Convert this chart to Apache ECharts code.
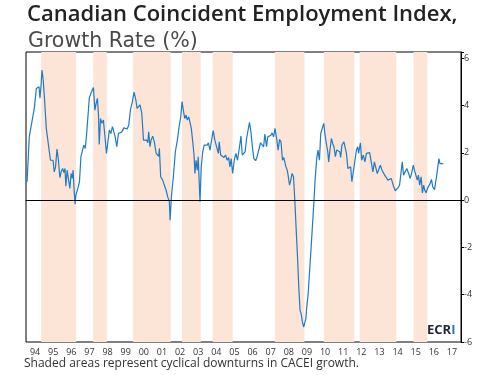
<!DOCTYPE html>
<html lang="en">

<head>
    <meta charset="UTF-8">
    <title>Canadian Coincident Employment Index</title>
    <style>
        body {
            margin: 0;
            background: #fff;
        }

        .chart {
            width: 495px;
            height: 375px;
        }
    </style>
</head>

<body>
    <div class="chart"></div>
    <script src="https://cdn.jsdelivr.net/npm/echarts@6/dist/echarts.min.js"></script>
    <script>
        // year labels on the bottom axis
        var years = ['94', '95', '96', '97', '98', '99', '00', '01', '02', '03', '04', '05',
            '06', '07', '08', '09', '10', '11', '12', '13', '14', '15', '16', '17']

        // shaded cyclical downturns (start, end) in decimal years
        var downturns = [
            [1994.84, 1996.77], [1997.71, 1998.46], [1999.91, 2001.98], [2002.61, 2003.64],
            [2004.30, 2005.40], [2007.73, 2009.36], [2010.43, 2012.12], [2012.41, 2014.43],
            [2015.38, 2016.14]
        ]

        // growth rate: time (decimal year) and value (%), row by row
        var t = [
            1994.06, 1994.18, 1994.29, 1994.36, 1994.47, 1994.57, 1994.66, 1994.72, 1994.77, 1994.83,
            1994.88, 1994.94, 1995.02, 1995.12, 1995.24, 1995.35, 1995.43, 1995.49, 1995.56, 1995.63,
            1995.71, 1995.78, 1995.87, 1995.94, 1996.02, 1996.09, 1996.15, 1996.20, 1996.27, 1996.37,
            1996.42, 1996.49, 1996.55, 1996.60, 1996.66, 1996.71, 1996.75, 1996.86, 1996.95, 1997.03,
            1997.12, 1997.19, 1997.27, 1997.34, 1997.41, 1997.49, 1997.58, 1997.65, 1997.72, 1997.80,
            1997.87, 1997.94, 1998.00, 1998.04, 1998.11, 1998.19, 1998.27, 1998.35, 1998.44, 1998.53,
            1998.60, 1998.68, 1998.77, 1998.85, 1998.92, 1999.01, 1999.10, 1999.19, 1999.29, 1999.40,
            1999.51, 1999.58, 1999.67, 1999.76, 1999.87, 1999.96, 2000.06, 2000.13, 2000.22, 2000.29,
            2000.39, 2000.48, 2000.57, 2000.66, 2000.72, 2000.77, 2000.84, 2000.90, 2000.99, 2001.08,
            2001.18, 2001.25, 2001.32, 2001.36, 2001.43, 2001.54, 2001.63, 2001.73, 2001.82, 2001.91,
            2001.95, 2002.02, 2002.13, 2002.24, 2002.35, 2002.46, 2002.54, 2002.61, 2002.68, 2002.76,
            2002.83, 2002.90, 2002.98, 2003.05, 2003.12, 2003.20, 2003.27, 2003.32, 2003.38, 2003.45,
            2003.50, 2003.60, 2003.67, 2003.75, 2003.83, 2003.93, 2004.00, 2004.06, 2004.15, 2004.24,
            2004.33, 2004.42, 2004.52, 2004.61, 2004.66, 2004.74, 2004.83, 2004.92, 2005.01, 2005.10,
            2005.18, 2005.25, 2005.32, 2005.40, 2005.49, 2005.58, 2005.67, 2005.78, 2005.86, 2005.93,
            2006.02, 2006.09, 2006.17, 2006.24, 2006.33, 2006.41, 2006.48, 2006.57, 2006.67, 2006.75,
            2006.85, 2006.94, 2007.03, 2007.11, 2007.18, 2007.27, 2007.34, 2007.44, 2007.51, 2007.58,
            2007.66, 2007.74, 2007.84, 2007.91, 2007.99, 2008.07, 2008.15, 2008.22, 2008.28, 2008.33,
            2008.41, 2008.46, 2008.54, 2008.61, 2008.68, 2008.76, 2008.83, 2008.90, 2008.98, 2009.05,
            2009.12, 2009.18, 2009.25, 2009.32, 2009.38, 2009.44, 2009.49, 2009.56, 2009.64, 2009.71,
            2009.80, 2009.88, 2009.95, 2010.04, 2010.11, 2010.19, 2010.26, 2010.33, 2010.43, 2010.50,
            2010.57, 2010.65, 2010.70, 2010.77, 2010.85, 2010.92, 2010.99, 2011.07, 2011.14, 2011.21,
            2011.31, 2011.36, 2011.43, 2011.54, 2011.58, 2011.68, 2011.76, 2011.84, 2011.91, 2011.98,
            2012.08, 2012.15, 2012.23, 2012.30, 2012.35, 2012.45, 2012.52, 2012.61, 2012.70, 2012.78,
            2012.87, 2012.96, 2013.07, 2013.14, 2013.22, 2013.29, 2013.38, 2013.47, 2013.55, 2013.64,
            2013.71, 2013.79, 2013.88, 2013.97, 2014.06, 2014.15, 2014.21, 2014.28, 2014.37, 2014.45,
            2014.54, 2014.61, 2014.69, 2014.76, 2014.83, 2014.93, 2015.01, 2015.11, 2015.20, 2015.29,
            2015.37, 2015.43, 2015.50, 2015.59, 2015.65, 2015.72, 2015.80, 2015.87, 2015.94, 2016.00,
            2016.08, 2016.15, 2016.22, 2016.30, 2016.37, 2016.44, 2016.54, 2016.63, 2016.67, 2016.75,
            2016.78, 2016.84, 2016.94, 2017.02
        ]
        var v = [
            0.78, 2.68, 2.71, 3.46, 3.95, 4.73, 4.77, 4.80, 4.31, 4.87,
            5.51, 5.16, 4.31, 3.04, 2.33, 1.69, 1.62, 1.69, 1.20, 1.41,
            2.16, 1.76, 0.95, 1.20, 1.34, 1.17, 1.34, 0.59, 1.27, 1.20,
            0.50, 1.13, 0.92, 1.27, 0.35, -0.17, 0.21, 0.50, 0.78, 1.84,
            1.84, 2.33, 2.19, 2.75, 3.46, 4.31, 4.52, 4.59, 4.77, 3.81,
            4.10, 4.31, 3.60, 2.36, 3.46, 3.25, 3.39, 2.75, 1.98, 2.54,
            2.97, 2.82, 3.11, 3.15, 2.68, 2.26, 2.82, 2.75, 2.89, 3.06,
            3.11, 3.01, 3.18, 3.81, 4.17, 4.57, 4.24, 3.88, 3.95, 4.03,
            3.67, 2.54, 2.51, 2.54, 2.43, 2.89, 2.26, 2.54, 2.71, 2.47,
            1.98, 1.91, 1.86, 2.19, 0.99, 0.85, 0.64, 0.42, 0.14, -0.07,
            -0.85, 0.14, 0.99, 2.05, 2.54, 3.18, 3.53, 4.17, 3.81, 3.46,
            3.60, 3.39, 3.53, 3.46, 3.04, 2.47, 1.91, 1.13, 1.69, 1.27,
            1.84, -0.07, 1.41, 2.05, 2.33, 2.37, 2.33, 2.43, 2.12, 2.54,
            2.94, 2.54, 2.61, 1.98, 2.47, 1.91, 1.98, 1.81, 1.91, 1.69,
            1.81, 1.41, 1.76, 1.13, 1.69, 1.98, 1.69, 2.26, 2.71, 1.91,
            1.86, 2.05, 2.61, 2.54, 3.29, 2.89, 2.33, 1.76, 1.67, 1.84,
            1.86, 2.43, 2.36, 2.26, 2.80, 2.26, 2.68, 2.71, 2.75, 2.85,
            2.68, 3.04, 2.54, 2.12, 2.57, 2.47, 1.69, 1.81, 1.62, 1.44,
            1.27, 1.06, 0.64, 0.85, 1.13, 0.99, 0.00, -1.13, -2.40, -3.67,
            -4.66, -4.80, -5.15, -5.37, -5.44, -5.01, -4.52, -4.03, -3.95, -2.26,
            -1.13, -0.14, 0.85, 1.76, 2.12, 1.69, 2.82, 2.89, 3.25, 2.75,
            2.40, 2.05, 1.62, 2.12, 2.61, 2.40, 2.26, 1.84, 2.12, 2.09,
            2.05, 1.81, 2.33, 2.47, 2.51, 1.98, 1.34, 1.27, 1.41, 0.78,
            0.71, 1.69, 2.12, 2.26, 1.98, 2.43, 1.69, 1.91, 1.62, 1.98,
            1.91, 2.01, 2.05, 1.20, 1.62, 1.55, 1.13, 1.06, 1.48, 1.27,
            1.34, 1.06, 1.06, 0.85, 0.78, 0.92, 0.88, 0.59, 0.40, 0.40,
            0.54, 0.64, 0.56, 1.62, 1.06, 1.06, 1.34, 1.13, 0.92, 1.20,
            1.48, 1.27, 1.20, 0.85, 1.06, 0.64, 0.99, 0.31, 0.64, 0.42,
            0.31, 0.50, 0.56, 0.71, 0.88, 0.56, 0.45, 0.45, 1.10, 1.16,
            1.76, 1.55, 1.58, 1.55
        ]

        var lineData = t.map(function (x, i) {
            return [x, v[i]]
        })
        var areas = downturns.map(function (d) {
            return [{ xAxis: d[0] }, { xAxis: d[1] }]
        })

        var myecharts = echarts.init(document.getElementsByClassName('chart')[0])
        var option = {
            animation: false,
            textStyle: { fontFamily: '"Open Sans", sans-serif' },
            title: [
                {
                    text: 'Canadian Coincident Employment Index,',
                    left: 22, top: -1,
                    textStyle: { fontSize: 22, fontWeight: 600, color: '#222', fontFamily: '"Open Sans"' }
                },
                {
                    text: 'Growth Rate (%)',
                    left: 23, top: 26,
                    textStyle: { fontSize: 20.5, fontWeight: 'normal', color: '#4a4a4a', fontFamily: '"DejaVu Sans"' }
                }
            ],
            grid: {
                left: 26, right: 34, top: 52, bottom: 33,
                show: true, borderColor: '#000', borderWidth: 1
            },
            xAxis: [
                {
                    type: 'category',
                    data: years,
                    boundaryGap: true,
                    axisLine: { lineStyle: { color: '#000' } },
                    axisTick: { inside: true, length: 3, lineStyle: { color: '#000' } },
                    axisLabel: { fontSize: 9, color: '#333', margin: 6, interval: 0 }
                },
                {
                    type: 'value',
                    min: 1994, max: 2018,
                    show: false
                }
            ],
            yAxis: {
                type: 'value',
                position: 'right',
                min: -6, max: 6.27, interval: 2,
                splitLine: { show: false },
                axisLine: { show: true, lineStyle: { color: '#000' } },
                axisTick: { show: true, length: 3, lineStyle: { color: '#000' } },
                axisLabel: {
                    fontSize: 9, color: '#333', margin: 3,
                    formatter: function (val) {
                        return val > 6 ? '' : val
                    }
                }
            },
            graphic: [
                {
                    type: 'text', left: 24, top: 358,
                    style: { text: 'Shaded areas represent cyclical downturns in CACEI growth.', fontSize: 12, fill: '#333', fontFamily: '"Open Sans"' }
                },
                {
                    type: 'text', left: 427, top: 324,
                    style: {
                        text: '{a|ECR}{b|I}',
                        rich: {
                            a: { fontSize: 13, fontWeight: 'bold', fill: '#1d2535', fontFamily: '"Open Sans"' },
                            b: { fontSize: 13, fontWeight: 'bold', fill: '#1f7bc4', fontFamily: '"Open Sans"' }
                        }
                    }
                }
            ],
            series: [
                {
                    type: 'line',
                    xAxisIndex: 1,
                    data: lineData,
                    showSymbol: false,
                    lineStyle: { color: '#1f7bc4', width: 1.2 },
                    markArea: {
                        silent: true,
                        itemStyle: { color: '#fce4d6' },
                        data: areas
                    },
                    markLine: {
                        silent: true,
                        symbol: 'none',
                        label: { show: false },
                        lineStyle: { color: '#000', width: 1, type: 'solid' },
                        data: [{ yAxis: 0 }]
                    }
                }
            ]
        }
        myecharts.setOption(option)
    </script>
</body>

</html>
